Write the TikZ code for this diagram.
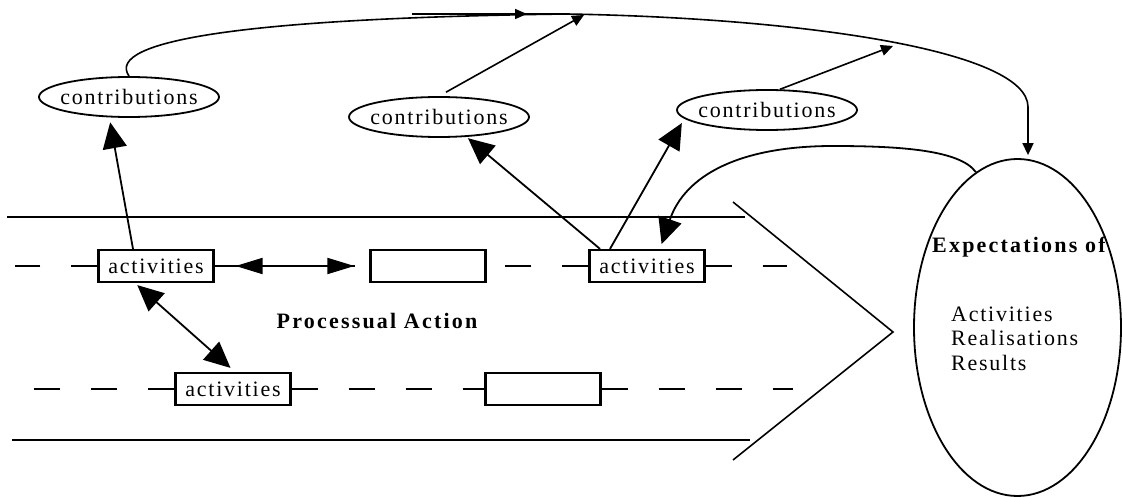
\documentclass[tikz,border=0pt]{standalone}
\usepackage{fontspec}
\setmainfont{Liberation Serif}[LetterSpace=8]
\newfontfamily\boldspaced{Liberation Serif}[LetterSpace=10]
\usetikzlibrary{arrows.meta, shapes.geometric, decorations.markings}

\newcommand{\slim}[1]{\makebox[0pt]{#1}}

\tikzset{
	contrib/.style={ellipse, draw, line width=1.8pt, minimum width=180pt, minimum height=40pt, inner sep=0pt},
	actbox/.style={rectangle, draw, line width=2.2pt, minimum width=115pt, minimum height=32pt, inner sep=0pt, fill=white},
	plaintext/.style={inner sep=0pt, anchor=base west},
	headtext/.style={inner sep=0pt, font=\fontsize{22}{26}\boldspaced\bfseries},
	rowdash/.style={line width=1.6pt, dash pattern=on 26pt off 31pt},
	band/.style={line width=1.6pt},
	curve/.style={line width=1.6pt},
	smalltip/.style={-{Triangle[length=12pt, width=11pt]}},
	bigtip/.style={line width=1.8pt, -{Triangle[length=26pt, width=24pt]}},
	bigboth/.style={line width=1.8pt, {Triangle[length=26pt, width=24pt]}-{Triangle[length=26pt, width=24pt]}},
	flatboth/.style={line width=1.8pt, {Triangle[length=27pt, width=16pt]}-{Triangle[length=27pt, width=16pt]}}
}

\begin{document}
\begin{tikzpicture}[x=1pt, y=-1pt, font=\fontsize{22}{26}\selectfont]
	\useasboundingbox (0,0) rectangle (1122,497);

	% band of the process
	\draw[band] (7,217) -- (745,217);
	\draw[band] (12,440) -- (750,440);
	\draw[band] (733,202) -- (893,332) -- (733,460);

	\coordinate (row1Start) at (15,266);
	\coordinate (row1End) at (787,266);
	\coordinate (row2Start) at (31,389);
	\coordinate (row2End) at (793,389);
	\coordinate (flowStart) at (412,14);
	\coordinate (flowJoin) at (567,14);
	\coordinate (mergeB) at (584,15);
	\coordinate (mergeC) at (893,46);
	\coordinate (dropPoint) at (1028,107);
	\coordinate (loopTop) at (833,146);

	\node[actbox] (act1) at (156,266) {activities};
	\node[actbox] (blank1) at (428,266) {};
	\node[actbox] (act3) at (647,266) {activities};
	\node[actbox] (act4) at (233,389) {activities};
	\node[actbox] (blank2) at (543,389) {};

	% dashed rows
	\draw[rowdash] (act1.west) -- (row1Start);
	\draw[rowdash] (act1.east) -- (blank1.west);
	\draw[rowdash] (act3.west) -- (blank1.east);
	\draw[rowdash] (act3.east) -- (row1End);
	\draw[rowdash] (act4.west) -- (row2Start);
	\draw[rowdash] (act4.east) -- (blank2.west);
	\draw[rowdash] (blank2.east) -- (row2End);

	\node[contrib] (contribA) at (129,97) {\slim{contributions}};
	\node[contrib] (contribB) at (439,117) {\slim{contributions}};
	\node[contrib] (contribC) at (767,110) {\slim{contributions}};

	\node[ellipse, draw, line width=1.8pt, minimum width=207pt, minimum height=337pt] (expect) at (1017.5,327.5) {};
	\node[headtext, anchor=base west] (expTitle) at (932,252) {Expectations of};
	\node[plaintext] (expAct) at (951,321) {Activities};
	\node[plaintext] (expReal) at (951,345) {Realisations};
	\node[plaintext] (expRes) at (951,370) {Results};

	\node[headtext, anchor=base] (procLabel) at (377,328) {Processual Action};

	% links between activities
	\draw[flatboth, shorten <=21pt, shorten >=15pt] (act1.east) -- (blank1.west);
	\draw[bigboth, shorten <=3pt, shorten >=6pt] ([xshift=-21pt]act1.south) -- ([xshift=2pt]act4.north);

	% activities to contributions
	\draw[bigtip, shorten >=5pt] ([xshift=-23pt]act1.north) -- (contribA.226);
	\draw[bigtip, shorten >=2pt] ([xshift=-47pt]act3.north) -- (contribB.324);
	\draw[bigtip, shorten >=5pt] ([xshift=-37pt]act3.north) -- (contribC.186);

	% contributions to expectations
	\draw[curve, smalltip, shorten >=3pt] (contribA.north) .. controls (104,40) and (250,18) .. (flowJoin) .. controls (800,18) and (1028,50) .. (dropPoint) -- (dropPoint |- expect.north);
	\draw[curve, postaction={decorate}, decoration={markings, mark=at position 115pt with {\arrow{Triangle[length=12pt, width=10pt]}}}] (flowStart) -- (flowJoin);
	\draw[curve, smalltip, shorten <=8pt] (contribB.north) -- (mergeB);
	\draw[curve, smalltip] (contribC.58) -- (mergeC);

	% expectations back to activities
	\draw[bigtip, shorten >=5pt] (expect.105) .. controls (960,150) and (900,146) .. (loopTop) .. controls (740,146) and (685,175) .. ([xshift=13pt]act3.north);
\end{tikzpicture}
\end{document}
